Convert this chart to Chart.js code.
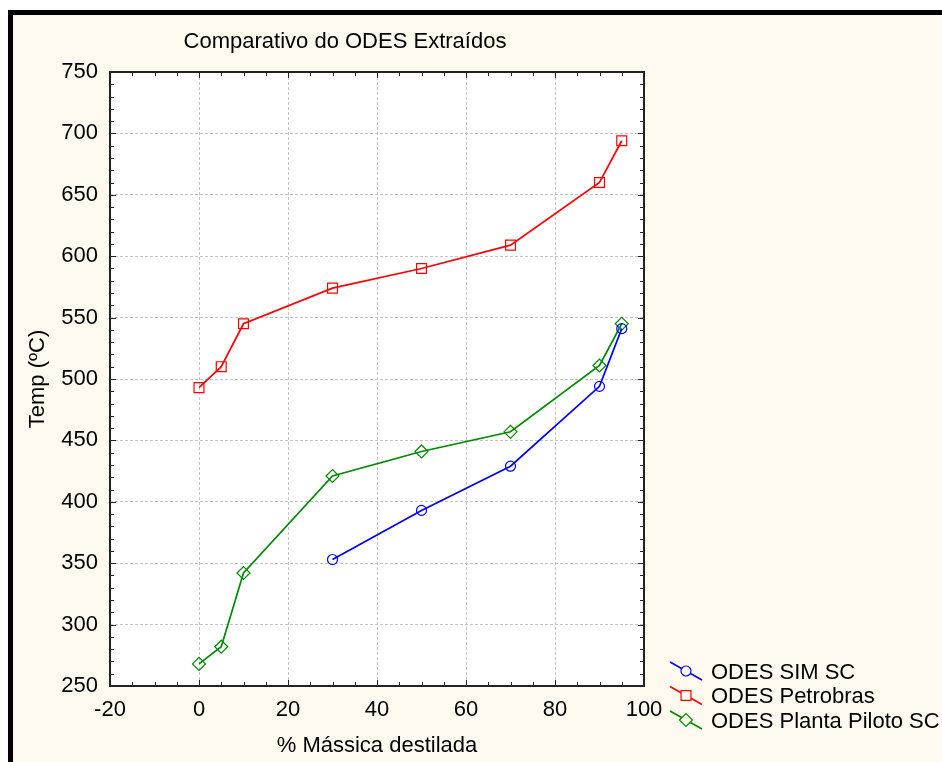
<!DOCTYPE html>
<html>
<head>
<meta charset="utf-8">
<script src="https://cdn.jsdelivr.net/npm/chart.js@4.4.1/dist/chart.umd.min.js"></script>
<style>
  body { margin: 0; background: #ffffff; }
  canvas { display: block; }
</style>
</head>
<body>
<canvas id="grafico" width="942" height="762"></canvas>
<script>
// dados
const massaSim = [30, 50, 70, 90, 95]
const tempSim = [353, 393, 429, 494, 541]
const massaPetrobras = [0, 5, 10, 30, 50, 70, 90, 95]
const tempPetrobras = [493, 510, 545, 574, 590, 609, 660, 694]
const massaPiloto = [0, 5, 10, 30, 50, 70, 90, 95]
const tempPiloto = [268, 282, 342, 421, 441, 457, 511, 545]
const nomesSeries = ['ODES SIM SC', 'ODES Petrobras', 'ODES Planta Piloto SC']

const FONTE = '"Liberation Sans", Arial, Helvetica, sans-serif'
const FUNDO = '#fffaf0'

const pontos = (xs, ys) => xs.map((x, i) => ({x: x, y: ys[i]}))

// fundo, moldura preta e textos
const molduraPlugin = {
	id: 'moldura',
	beforeDraw(chart) {
		const {ctx, chartArea: a} = chart
		ctx.save()
		ctx.fillStyle = '#000'
		ctx.fillRect(8, 10, chart.width - 8, chart.height - 10)
		ctx.fillStyle = FUNDO
		ctx.fillRect(13, 15, chart.width - 13, chart.height - 15)
		ctx.fillStyle = '#fff'
		ctx.fillRect(a.left, a.top, a.right - a.left, a.bottom - a.top)
		ctx.restore()
	},
	afterDraw(chart) {
		const {ctx, chartArea: a} = chart
		const sx = chart.scales.x
		const sy = chart.scales.y
		ctx.save()
		// ticks menores pra dentro
		ctx.strokeStyle = '#222'
		ctx.lineWidth = 1
		ctx.beginPath()
		for (let v = -20; v <= 100; v += 5) {
			const px = Math.round(sx.getPixelForValue(v)) + 0.5
			const len = v % 20 === 0 ? 6 : 4
			ctx.moveTo(px, a.bottom); ctx.lineTo(px, a.bottom - len)
			ctx.moveTo(px, a.top); ctx.lineTo(px, a.top + len)
		}
		for (let v = 250; v <= 750; v += 10) {
			const py = Math.round(sy.getPixelForValue(v)) + 0.5
			const len = v % 50 === 0 ? 6 : 4
			ctx.moveTo(a.left, py); ctx.lineTo(a.left + len, py)
			ctx.moveTo(a.right, py); ctx.lineTo(a.right - len, py)
		}
		ctx.stroke()
		// moldura do gráfico
		ctx.lineWidth = 2
		ctx.strokeStyle = '#222'
		ctx.strokeRect(a.left, a.top, a.right - a.left, a.bottom - a.top)

		// textos
		ctx.fillStyle = '#000'
		ctx.font = '22px ' + FONTE
		ctx.textAlign = 'center'
		ctx.textBaseline = 'alphabetic'
		ctx.fillText('Comparativo do ODES Extraídos', 345, 48)
		ctx.fillText('% Mássica destilada', (a.left + a.right) / 2, 752)
		ctx.save()
		ctx.translate(44, (a.top + a.bottom) / 2)
		ctx.rotate(-Math.PI / 2)
		ctx.fillText('Temp (ºC)', 0, 0)
		ctx.restore()

		// legenda
		chart.data.datasets.forEach((ds, i) => {
			const cy = 671 + i * 24.5
			ctx.strokeStyle = ds.borderColor
			ctx.lineWidth = 1.6
			ctx.beginPath()
			ctx.moveTo(670, cy - 9)
			ctx.lineTo(702, cy + 9)
			ctx.stroke()
			ctx.fillStyle = FUNDO
			ctx.strokeStyle = ds.borderColor
			ctx.lineWidth = 1.2
			Chart.helpers.drawPoint(ctx, {pointStyle: ds.pointStyle, rotation: 0, radius: ds.pointRadius, borderWidth: 1.2}, 686, cy)
			ctx.fillStyle = '#000'
			ctx.textAlign = 'left'
			ctx.fillText(ds.label, 711, cy + 7.5)
		})
		ctx.restore()
	}
}

const grafico = new Chart(document.getElementById('grafico'), {
	type: 'scatter',
	data: {
		datasets: [
			{
				label: nomesSeries[0],
				data: pontos(massaSim, tempSim),
				borderColor: '#0000ff',
				pointStyle: 'circle',
				pointRadius: 5
			},
			{
				label: nomesSeries[1],
				data: pontos(massaPetrobras, tempPetrobras),
				borderColor: '#ff0000',
				pointStyle: 'rect',
				pointRadius: 7
			},
			{
				label: nomesSeries[2],
				data: pontos(massaPiloto, tempPiloto),
				borderColor: '#008a00',
				pointStyle: 'rectRot',
				pointRadius: 6.5
			}
		].map(ds => Object.assign(ds, {
			showLine: true,
			borderWidth: 1.7,
			pointBorderWidth: 1.2,
			pointBackgroundColor: 'rgba(0,0,0,0)',
			pointBorderColor: ds.borderColor,
			pointHoverRadius: ds.pointRadius,
			tension: 0
		}))
	},
	options: {
		responsive: false,
		animation: false,
		layout: { padding: { left: 0, top: 72, right: 298, bottom: 0 } },
		plugins: {
			legend: { display: false },
			title: { display: false },
			tooltip: { enabled: false }
		},
		scales: {
			x: {
				type: 'linear',
				min: -20,
				max: 100,
				afterFit: s => { s.height = 76 },
				ticks: { stepSize: 20, color: '#000', padding: 11, font: { family: FONTE, size: 22 } },
				grid: { color: '#c4c4c4', lineWidth: 1, drawTicks: false },
				border: { display: false, dash: [3, 2] }
			},
			y: {
				min: 250,
				max: 750,
				afterFit: s => { s.width = 110 },
				ticks: { stepSize: 50, color: '#000', padding: 12, font: { family: FONTE, size: 22 } },
				grid: { color: '#c4c4c4', lineWidth: 1, drawTicks: false },
				border: { display: false, dash: [3, 2] }
			}
		}
	},
	plugins: [molduraPlugin]
})
</script>
</body>
</html>
